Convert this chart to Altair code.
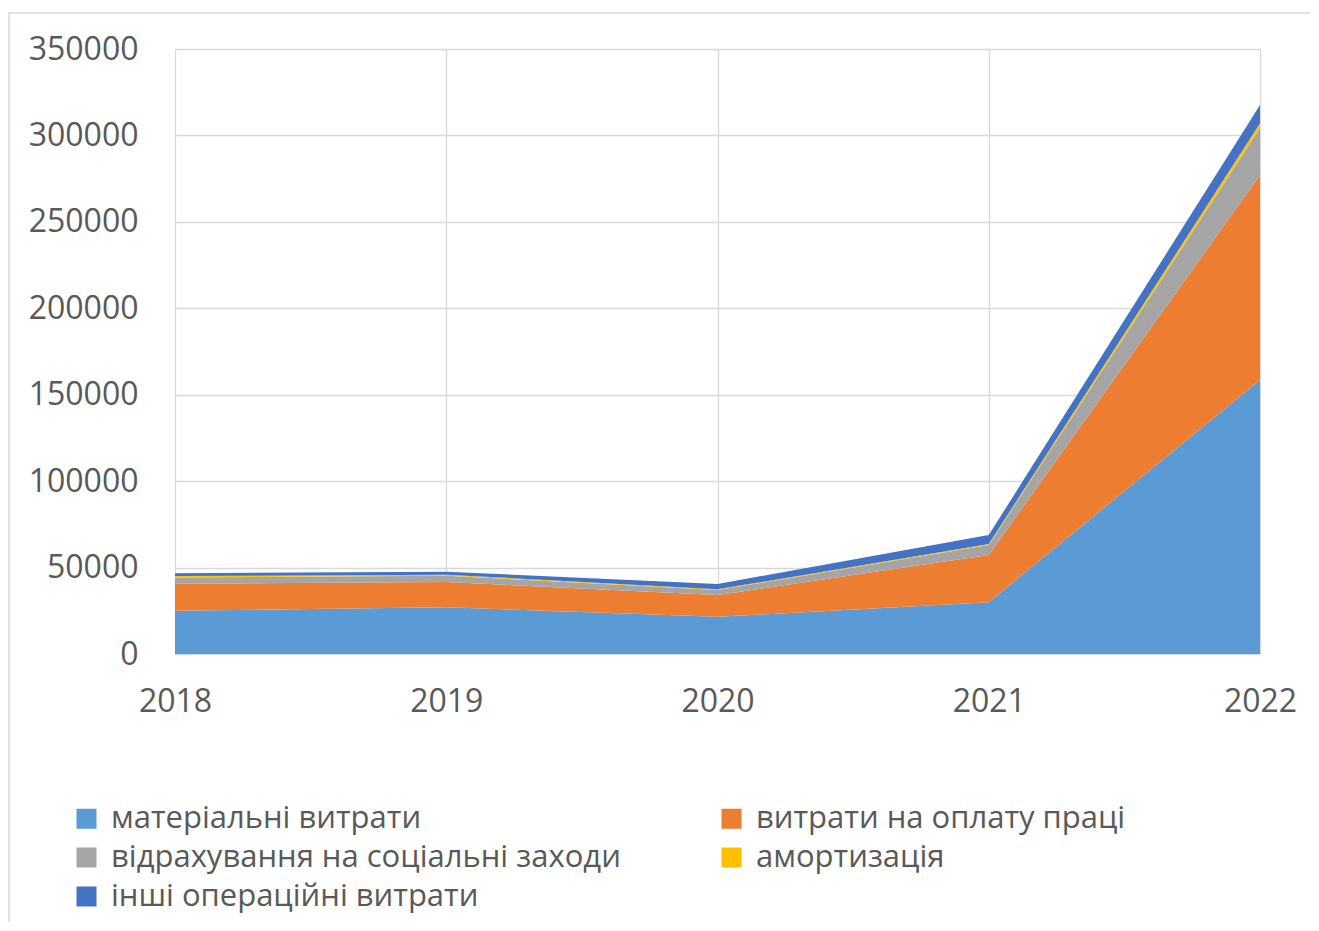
import altair as alt
import pandas as pd

years = [2018, 2019, 2020, 2021, 2022]
series_names = [
    "матеріальні витрати",
    "витрати на оплату праці",
    "відрахування на соціальні заходи",
    "амортизація",
    "інші операційні витрати",
]
material = [25000, 27000, 21500, 30000, 158500]
labor = [15700, 14700, 12600, 27300, 118600]
social = [3500, 3600, 2900, 5700, 27000]
amort = [900, 600, 400, 600, 2900]
other = [1600, 1700, 3100, 5200, 10600]
y_ticks = [0, 50000, 100000, 150000, 200000, 250000, 300000, 350000]
colors = ["#5B9BD5", "#ED7D31", "#A5A5A5", "#FFC000", "#4472C4"]

rows = []
for si, (name, vals) in enumerate(zip(series_names, [material, labor, social, amort, other])):
    for yr, v in zip(years, vals):
        rows.append({"year": yr, "series": name, "value": v, "order": si})
df = pd.DataFrame(rows)

# Vega fills legend columns top-to-bottom; reorder so it reads row-wise like the reference
legend_order = [series_names[i] for i in (0, 2, 4, 1, 3)]
legend_colors = [colors[i] for i in (0, 2, 4, 1, 3)]

FONT = "Open Sans"
TXT = "#595959"
GRID = "#D9D9D9"

area = alt.Chart(df).mark_area(interpolate="linear", opacity=1).encode(
    x=alt.X("year:Q",
            scale=alt.Scale(domain=[2018, 2022], nice=False, zero=False),
            axis=alt.Axis(values=years, format="d", title=None, domain=False, ticks=False,
                          labelFlush=False, labelOverlap=False,
                          labelPadding=32, labelFontSize=32, labelFont=FONT, labelColor=TXT,
                          grid=True, gridColor=GRID, gridWidth=1.3)),
    y=alt.Y("value:Q", stack="zero",
            scale=alt.Scale(domain=[0, 350000], nice=False),
            axis=alt.Axis(values=y_ticks, format="d", title=None, domain=False, ticks=False,
                          labelFlush=False, labelOverlap=False,
                          labelPadding=37, labelFontSize=32, labelFont=FONT, labelColor=TXT,
                          grid=True, gridColor=GRID, gridWidth=1.3)),
    color=alt.Color("series:N", sort=legend_order,
                    scale=alt.Scale(domain=legend_order, range=legend_colors),
                    legend=alt.Legend(title=None, orient="none", legendX=-104, legendY=754,
                                      columns=2, columnPadding=95, rowPadding=7,
                                      symbolType="square", symbolSize=400, symbolStrokeWidth=0,
                                      symbolOpacity=1,
                                      labelFontSize=31, labelFont=FONT, labelColor=TXT,
                                      labelOffset=9, labelLimit=700)),
    order=alt.Order("order:Q", sort="ascending"),
)

frame = alt.Chart(alt.Data(values=[{"k": 1}])).mark_rect(
    fill=None, stroke=GRID, strokeWidth=1.5, clip=False
).encode(
    x=alt.value(-166), x2=alt.value(1170), y=alt.value(-36), y2=alt.value(920)
)

chart = alt.layer(frame, area).properties(
    width=1085, height=605,
    autosize=alt.AutoSizeParams(type="none"),
    padding={"left": 167, "top": 41, "right": 50, "bottom": 268},
).configure_view(stroke=None)

chart.save("out.html", embed_options={"renderer": "svg", "actions": False})
